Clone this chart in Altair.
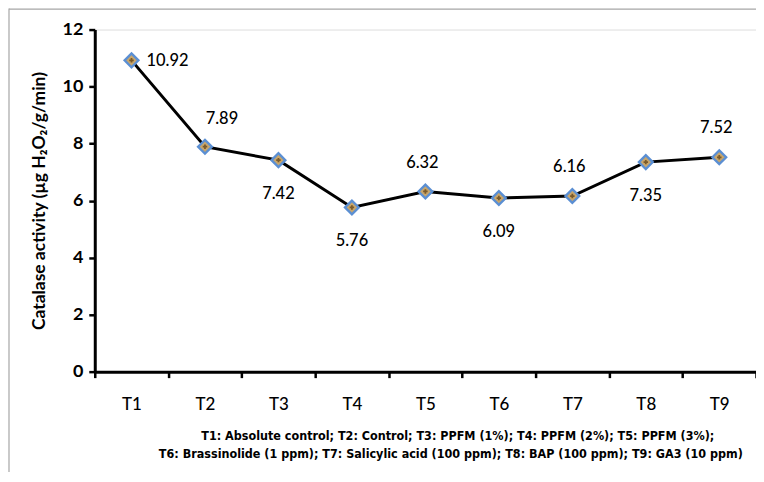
import altair as alt
import pandas as pd

treatments = ["T1", "T2", "T3", "T4", "T5", "T6", "T7", "T8", "T9"]
catalase = [10.92, 7.89, 7.42, 5.76, 6.32, 6.09, 6.16, 7.35, 7.52]
label_side = ["right", "above-right", "below", "below", "above", "below", "above", "below", "above"]
y_ticks = [0, 2, 4, 6, 8, 10, 12]
footnote_1 = "T1: Absolute control; T2: Control; T3: PPFM (1%); T4: PPFM (2%); T5: PPFM (3%);"
footnote_2 = "T6: Brassinolide (1 ppm); T7: Salicylic acid (100 ppm); T8: BAP (100 ppm); T9: GA3 (10 ppm)"

df = pd.DataFrame({
    "treatment": treatments,
    "catalase": catalase,
    "side": label_side,
    "label": [f"{v:.2f}" for v in catalase],
})

FONT = "Lato"
NOTE_FONT = "'DejaVu Sans Condensed', 'Liberation Sans', sans-serif"

x = alt.X(
    "treatment:N", sort=treatments,
    scale=alt.Scale(type="band", paddingInner=0, paddingOuter=0),
    axis=alt.Axis(
        title=None, labelAngle=0, tickBand="extent", grid=False,
        domainColor="black", domainWidth=3, tickColor="black", tickWidth=2.5, tickSize=6,
        labelFont=FONT, labelFontSize=17, labelFontWeight=500, labelColor="black", labelPadding=19,
    ),
)
y = alt.Y(
    "catalase:Q",
    scale=alt.Scale(domain=[0, 12], nice=False),
    axis=alt.Axis(
        values=y_ticks, grid=False,
        domainColor="black", domainWidth=3, tickColor="black", tickWidth=2.5, tickSize=6,
        labelFont=FONT, labelFontSize=18, labelFontWeight="bold", labelColor="black", labelPadding=6,
        title="Catalase activity (µg H₂O₂/g/min)", titleFont=FONT, titleFontSize=17.5,
        titleFontWeight="bold", titleColor="black", titlePadding=14,
    ),
)

base = alt.Chart(df)

line = base.mark_line(color="black", strokeWidth=3).encode(x=x, y=y)
pts = base.mark_point(shape="diamond", filled=True, size=190, fill="#C8A66C",
                      stroke="#5B8FD3", strokeWidth=2.4, opacity=1).encode(x=x, y=y)
cross = base.mark_point(shape="cross", filled=True, size=20, color="#7A5A2A", opacity=1).encode(x=x, y=y)

def labels(side, dx, dy, align="center"):
    return base.transform_filter(alt.datum.side == side).mark_text(
        font=FONT, fontSize=16.5, fontWeight=500, color="black", dx=dx, dy=dy, align=align, baseline="middle"
    ).encode(x=x, y=y, text="label:N")

lab_right = labels("right", 15, 1, "left")
lab_above_r = labels("above-right", 17, -28)
lab_above = labels("above", -3, -29)
lab_below = labels("below", 0, 34)

def note_line(txt, xpos, ypos):
    return alt.Chart(pd.DataFrame({"text": [txt]})).mark_text(
        font=NOTE_FONT, fontSize=12.5, fontWeight="bold", color="black",
        align="center", baseline="middle",
    ).encode(x=alt.value(xpos), y=alt.value(ypos), text="text:N")

note1 = note_line(footnote_1, 364, 408)
note2 = note_line(footnote_2, 357, 426)

frame_df = pd.DataFrame({"a": [0]})
frame_top = alt.Chart(frame_df).mark_rule(color="#A6A6A6", strokeWidth=1.2).encode(
    x=alt.value(-86), x2=alt.value(700), y=alt.value(-20.5))
frame_left = alt.Chart(frame_df).mark_rule(color="#A6A6A6", strokeWidth=1.2).encode(
    x=alt.value(-86), y=alt.value(-21), y2=alt.value(480))

chart = alt.layer(
    frame_top, frame_left, line, pts, cross, lab_right, lab_above_r, lab_above, lab_below, note1, note2
).properties(
    width=663, height=343,
    autosize=alt.AutoSizeParams(type="none"),
    padding={"left": 87, "top": 21, "right": 0, "bottom": 100},
).configure_view(stroke=None).configure(background="white")

chart.save("out.html", embed_options={"renderer": "svg", "actions": False})
